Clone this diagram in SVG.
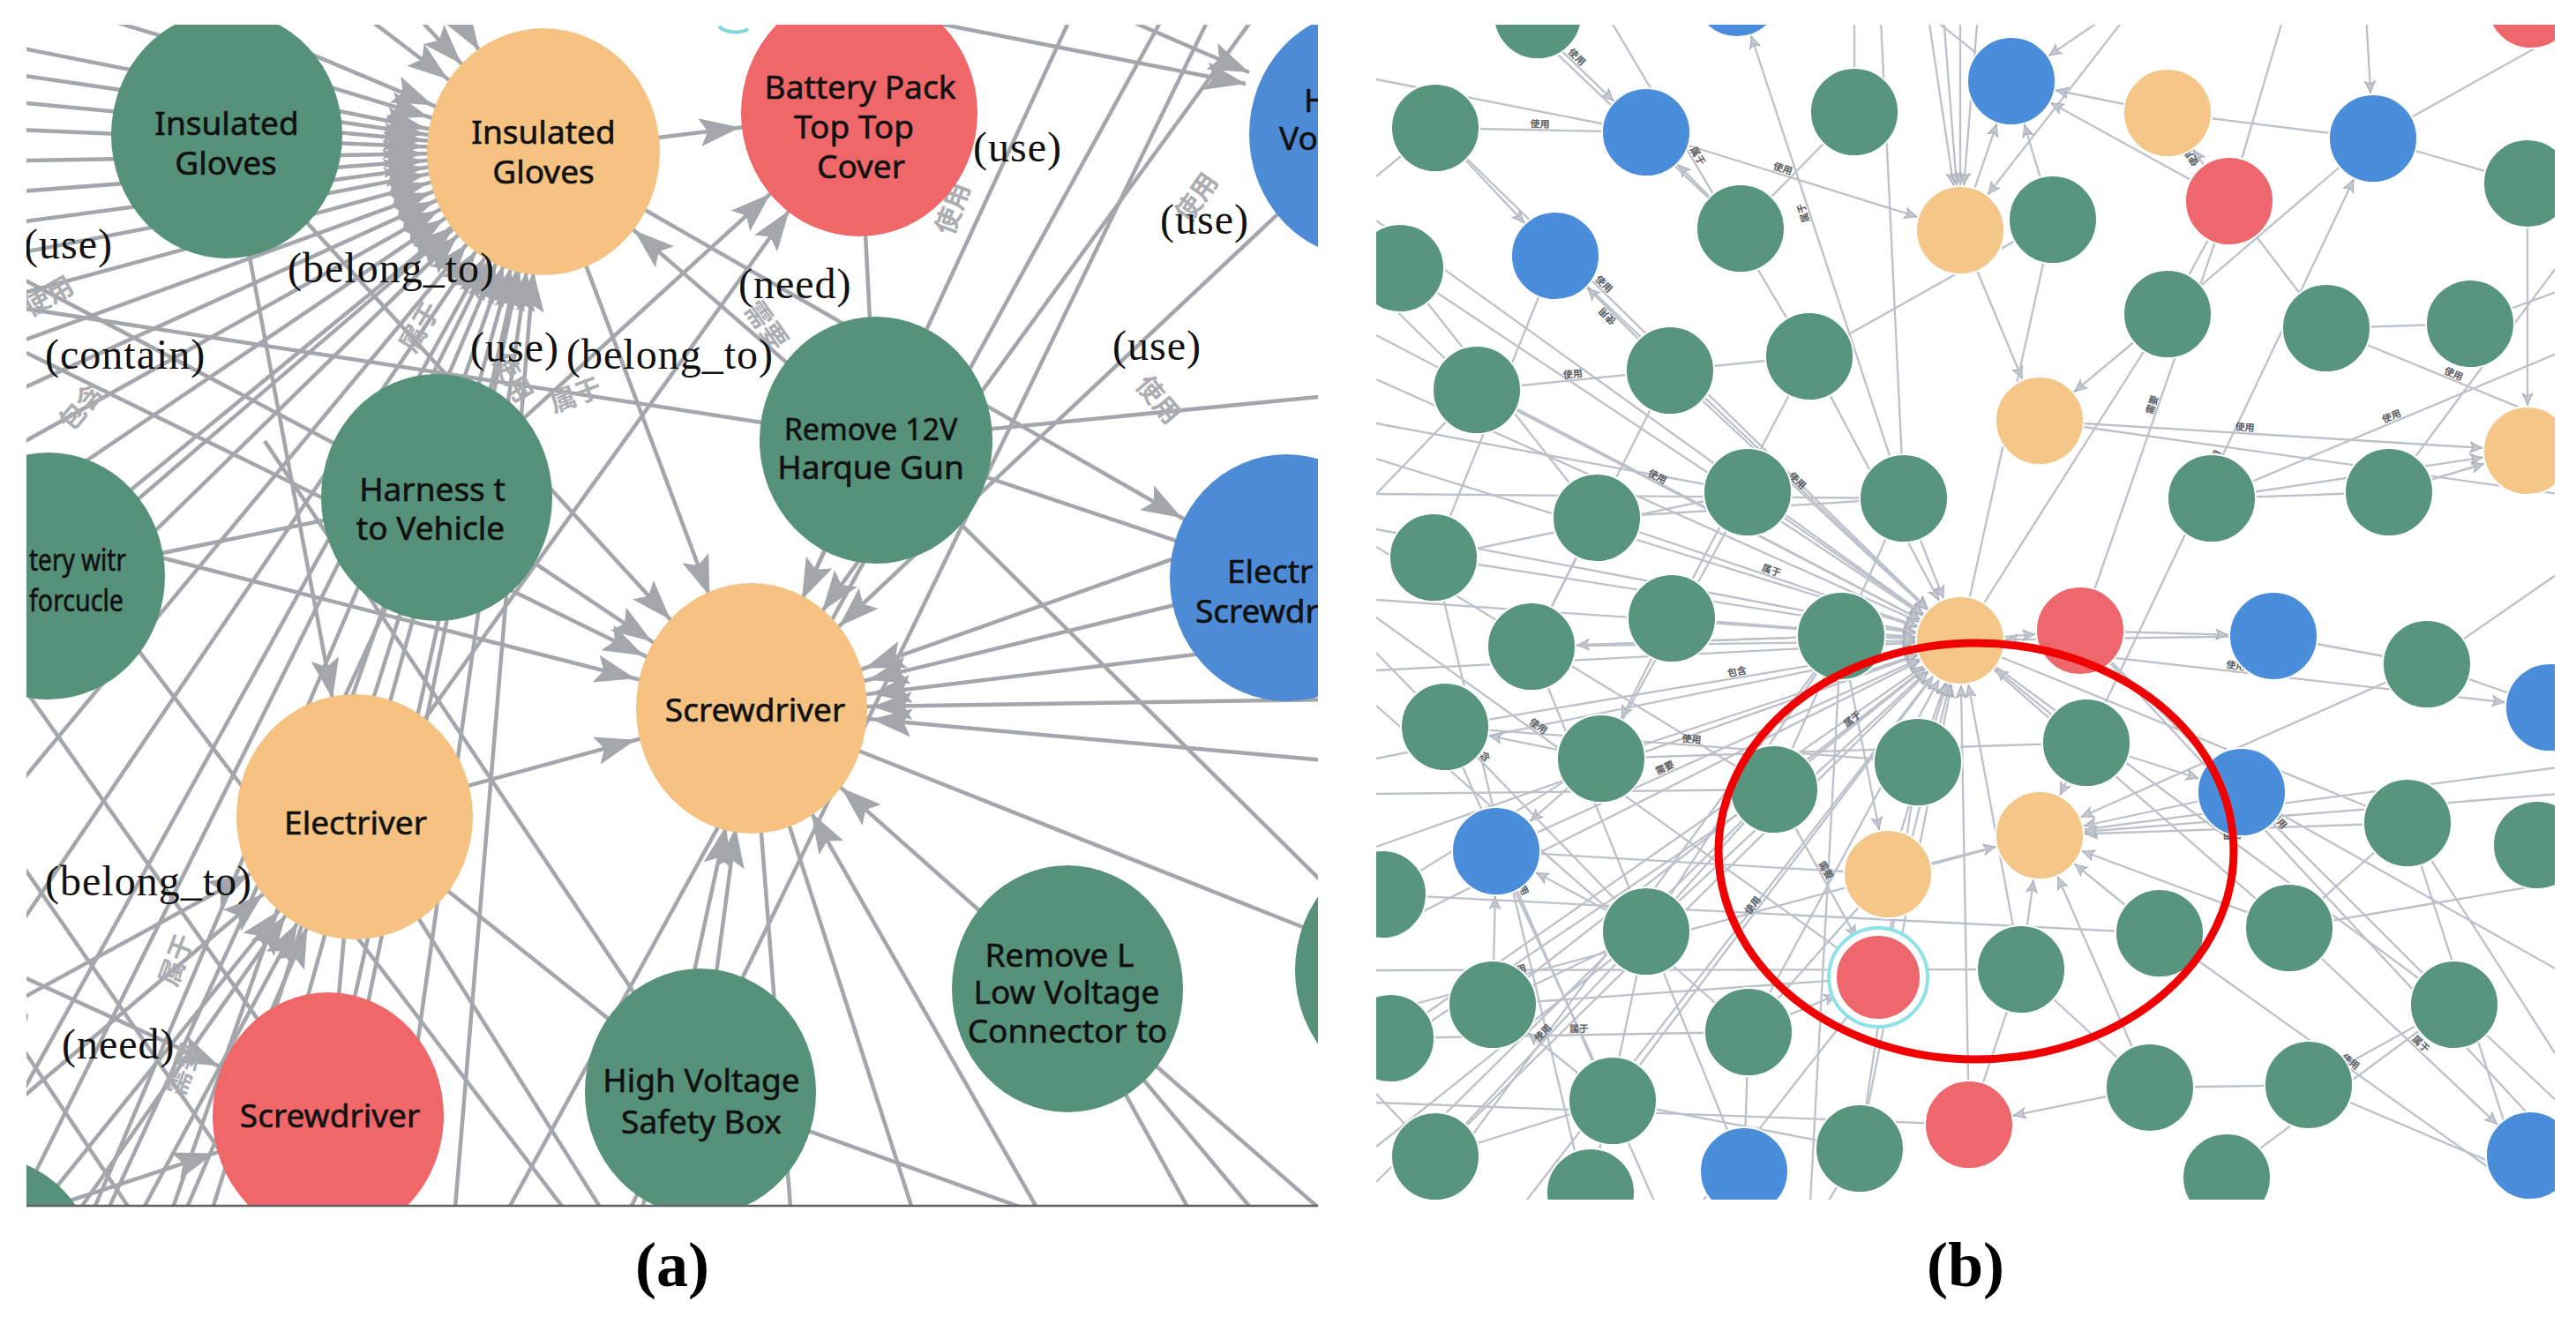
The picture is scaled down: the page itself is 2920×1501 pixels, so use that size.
<svg xmlns="http://www.w3.org/2000/svg" width="2920" height="1501" viewBox="0 0 2920 1501">
<style>
.ea path{stroke:#a3a6ab;stroke-width:4.5;fill:none}
.eb path{stroke:#bcc1ca;stroke-width:2.3;fill:none}
.ng{fill:#56927a}.no{fill:#f5c281}.nr{fill:#f0676a}.nb{fill:#4d8bd6}
.bg{fill:#58957f;stroke:#fff;stroke-width:2}.bo{fill:#f4c687;stroke:#fff;stroke-width:2}.br{fill:#ee676c;stroke:#fff;stroke-width:2}.bb{fill:#4a8ddb;stroke:#fff;stroke-width:2}
.nt{font-family:"Noto Sans","Liberation Sans",sans-serif;font-size:37px;fill:#111;stroke:#111;stroke-width:0.6px;text-anchor:middle}
.nts{font-family:"Noto Sans","Liberation Sans",sans-serif;font-size:37px;fill:#111;stroke:#111;stroke-width:0.6px}
.rl{font-family:"Liberation Serif",serif;font-size:48px;fill:#111;letter-spacing:1px}
.cz{font-family:"Noto Sans CJK SC","Noto Sans",sans-serif;font-size:30px;font-weight:bold;fill:#abadb1;text-anchor:middle}
.lb{font-family:"Noto Sans CJK SC","Noto Sans",sans-serif;font-size:11px;font-weight:bold;fill:#5a5d63}
.cap{font-family:"Liberation Serif",serif;font-size:72px;font-weight:bold;fill:#000;text-anchor:middle}
</style>
<defs>
<clipPath id="clipA"><rect x="30" y="28" width="1464" height="1340"/></clipPath>
<clipPath id="clipB"><rect x="1560" y="28" width="1336" height="1332"/></clipPath>
<marker id="ma" markerUnits="userSpaceOnUse" orient="auto" refX="136" refY="0" markerWidth="10" markerHeight="10" overflow="visible" style="overflow:visible"><path d="M0,0 L-46,-16 L-37,0 L-46,16 Z" fill="#a3a6ab"/></marker>
<marker id="ma0" markerUnits="userSpaceOnUse" orient="auto" refX="0" refY="0" markerWidth="10" markerHeight="10" overflow="visible" style="overflow:visible"><path d="M0,0 L-46,-16 L-37,0 L-46,16 Z" fill="#a3a6ab"/></marker>
<marker id="mb" markerUnits="userSpaceOnUse" orient="auto" refX="52" refY="0" markerWidth="10" markerHeight="10" overflow="visible" style="overflow:visible"><path d="M0,0 L-13,-6 L-10,0 L-13,6 Z" fill="#c3c7cf" stroke="#a6abb5" stroke-width="1"/></marker>
</defs>
<rect x="0" y="0" width="2920" height="1501" fill="#fff"/>

<!-- ================= PANEL A ================= -->
<g id="panel-a" clip-path="url(#clipA)">
<g id="edges-a" class="ea">
<g marker-end="url(#ma)">
<path d="M-150 -150 L616 172"/><path d="M-150 -60 L616 172"/><path d="M-150 20 L616 172"/><path d="M-150 60 L616 172"/>
<path d="M-150 100 L616 172"/><path d="M-150 140 L616 172"/><path d="M-150 185 L616 172"/><path d="M-150 230 L616 172"/>
<path d="M-150 275 L616 172"/><path d="M-150 320 L616 172"/><path d="M-150 380 L616 172"/><path d="M-150 450 L616 172"/>
<path d="M-150 520 L616 172"/><path d="M-150 600 L616 172"/><path d="M-150 690 L616 172"/><path d="M-150 800 L616 172"/>
<path d="M-150 920 L616 172"/><path d="M-120 1060 L616 172"/><path d="M-80 1200 L616 172"/><path d="M-20 1320 L616 172"/>
<path d="M60 1480 L616 172"/><path d="M150 1500 L616 172"/><path d="M240 1520 L616 172"/><path d="M330 1560 L616 172"/>
<path d="M420 1560 L616 172"/><path d="M500 1560 L616 172"/><path d="M100 -220 L616 172"/><path d="M250 -220 L616 172"/>
<path d="M380 -200 L616 172"/><path d="M55 653 L616 172"/><path d="M372 1265 L616 172"/><path d="M-20 1450 L616 172"/>
<path d="M616 172 L974 128"/><path d="M495 564 L974 128"/><path d="M402 926 L974 128"/><path d="M993 499 L616 172"/>
<path d="M616 172 L1458 655"/><path d="M616 172 L852 803"/><path d="M257 153 L852 803"/><path d="M257 153 L402 926"/>
<path d="M495 564 L852 803"/><path d="M402 926 L852 803"/><path d="M993 499 L852 803"/><path d="M1232 -20 L852 803"/>
<path d="M1450 -20 L852 803"/><path d="M1545 152 L852 803"/><path d="M1458 655 L852 803"/><path d="M1700 790 L852 803"/>
<path d="M1700 700 L852 803"/><path d="M1650 520 L852 803"/><path d="M1700 880 L852 803"/><path d="M794 1238 L852 803"/>
<path d="M700 1500 L852 803"/><path d="M1250 1500 L852 803"/><path d="M1210 1121 L852 803"/><path d="M-100 560 L852 803"/>
<path d="M30 400 L852 803"/><path d="M-100 1420 L372 1265"/><path d="M-100 1050 L372 1265"/><path d="M-100 1350 L402 926"/>
<path d="M0 1500 L402 926"/><path d="M60 1560 L402 926"/><path d="M130 1560 L402 926"/><path d="M-20 1450 L402 926"/>
<path d="M-100 1200 L402 926"/>
</g>
<g marker-end="url(#ma0)">
<path d="M600 -64 L1412 95"/><path d="M1180 -20 L1416 82"/>
</g>
<path d="M974 128 L993 499"/><path d="M993 499 L1458 655"/><path d="M993 499 L1800 420"/><path d="M993 499 L1600 1100"/>
<path d="M1390 -20 L700 1400"/><path d="M1340 -20 L560 1400"/><path d="M852 803 L1600 1100"/><path d="M402 926 L794 1238"/>
<path d="M794 1238 L1300 1420"/><path d="M55 653 L495 564"/><path d="M495 564 L100 1420"/><path d="M495 564 L200 1500"/>
<path d="M-100 400 L700 1450"/><path d="M-100 600 L500 1450"/><path d="M-100 800 L350 1450"/><path d="M-100 1000 L200 1450"/>
<path d="M372 1265 L402 926"/><path d="M402 926 L700 1400"/><path d="M1210 1121 L1460 1420"/><path d="M1210 1121 L1530 1400"/>
<path d="M1210 1121 L1380 1430"/><path d="M300 500 L794 1238"/><path d="M852 803 L900 1420"/><path d="M852 803 L1050 1420"/>
<path d="M-100 250 L495 564"/><path d="M-100 330 L993 499"/><path d="M1458 655 L1700 560"/><path d="M1600 1100 L1458 655"/>
</g>
<path d="M815 30 A22 14 0 0 0 848 33" fill="none" stroke="#7fd8dc" stroke-width="4"/>

<g id="a-labels-zh">
<text class="cz" transform="translate(60,345) rotate(-30)">使用</text>
<text class="cz" transform="translate(100,468) rotate(-50)">包含</text>
<text class="cz" transform="translate(485,376) rotate(-60)">属于</text>
<text class="cz" transform="translate(656,458) rotate(-20)">属于</text>
<text class="cz" transform="translate(572,433) rotate(60)">使用</text>
<text class="cz" transform="translate(1090,240) rotate(-70)">使用</text>
<text class="cz" transform="translate(1365,230) rotate(-55)">使用</text>
<text class="cz" transform="translate(860,375) rotate(55)">需要</text>
<text class="cz" transform="translate(1305,460) rotate(50)">使用</text>
<text class="cz" transform="translate(210,1092) rotate(-70)">属于</text>
<text class="cz" transform="translate(218,1216) rotate(-70)">需要</text>
<text class="cz" transform="translate(25,1165) rotate(-70)">属于</text>
</g>

<g id="a-gloves-green"><ellipse class="ng" cx="257" cy="153" rx="131" ry="140"/><text class="nt"><tspan x="257" y="153">Insulated</tspan><tspan x="256" y="198">Gloves</tspan></text></g>
<g id="a-gloves-orange"><ellipse class="no" cx="616" cy="172" rx="132" ry="140"/><text class="nt"><tspan x="616" y="163">Insulated</tspan><tspan x="616" y="208">Gloves</tspan></text></g>
<g id="a-battery-cover"><ellipse class="nr" cx="974" cy="128" rx="134" ry="140"/><text class="nt"><tspan x="975" y="112">Battery Pack</tspan><tspan x="968" y="157">Top Top</tspan><tspan x="976" y="202">Cover</tspan></text></g>
<g id="a-hv-blue"><ellipse class="nb" cx="1547" cy="152" rx="131" ry="140"/><text class="nts"><tspan x="1478" y="127">H</tspan><tspan x="1450" y="170">Vo</tspan></text></g>
<g id="a-remove-12v"><ellipse class="ng" cx="993" cy="499" rx="132" ry="140"/><text class="nt"><tspan x="987" y="499" font-size="34">Remove 12V</tspan><tspan x="987" y="543">Harque Gun</tspan></text></g>
<g id="a-harness"><ellipse class="ng" cx="495" cy="564" rx="131" ry="140"/><text class="nt"><tspan x="490" y="568">Harness t</tspan><tspan x="488" y="612">to Vehicle</tspan></text></g>
<g id="a-battery-left"><ellipse class="ng" cx="55" cy="653" rx="132" ry="140"/><text class="nts"><tspan x="33" y="647" font-size="34" textLength="110" lengthAdjust="spacingAndGlyphs">tery witr</tspan><tspan x="33" y="693" font-size="34" textLength="107" lengthAdjust="spacingAndGlyphs">forcucle</tspan></text></g>
<g id="a-electriver"><ellipse class="no" cx="402" cy="926" rx="134" ry="139"/><text class="nt" x="403" y="946">Electriver</text></g>
<g id="a-screwdriver-orange"><ellipse class="no" cx="852" cy="803" rx="131" ry="142"/><text class="nt" x="856" y="818">Screwdriver</text></g>
<g id="a-electric-screwdriver"><ellipse class="nb" cx="1458" cy="655" rx="132" ry="140"/><text class="nts"><tspan x="1391" y="661">Electr</tspan><tspan x="1355" y="706">Screwdr</tspan></text></g>
<g id="a-screwdriver-red"><ellipse class="nr" cx="372" cy="1265" rx="131" ry="140"/><text class="nt" x="374" y="1278">Screwdriver</text></g>
<g id="a-hv-safety-box"><ellipse class="ng" cx="794" cy="1238" rx="131" ry="140"/><text class="nt"><tspan x="795" y="1238">High Voltage</tspan><tspan x="795" y="1285">Safety Box</tspan></text></g>
<g id="a-remove-lv"><ellipse class="ng" cx="1210" cy="1121" rx="131" ry="140"/><text class="nt"><tspan x="1201" y="1096">Remove L</tspan><tspan x="1209" y="1138">Low Voltage</tspan><tspan x="1210" y="1182">Connector to</tspan></text></g>
<g id="a-right-green"><ellipse class="ng" cx="1600" cy="1100" rx="132" ry="140"/></g>
<g id="a-bottomleft-green"><ellipse class="ng" cx="-20" cy="1450" rx="132" ry="140"/></g>

<g id="a-labels">
<text class="rl" x="27" y="293">(use)</text>
<text class="rl" x="326" y="320">(belong_to)</text>
<text class="rl" x="51" y="418">(contain)</text>
<text class="rl" x="533" y="410">(use)</text>
<text class="rl" x="642" y="418">(belong_to)</text>
<text class="rl" x="837" y="338">(need)</text>
<text class="rl" x="1103" y="183">(use)</text>
<text class="rl" x="1315" y="265">(use)</text>
<text class="rl" x="1261" y="408">(use)</text>
<text class="rl" x="51" y="1015">(belong_to)</text>
<text class="rl" x="70" y="1200">(need)</text>
</g>
</g>
<line x1="30" y1="1367" x2="1494" y2="1367" stroke="#5f5f5f" stroke-width="2.5"/>

<!-- ================= PANEL B ================= -->
<g id="panel-b" clip-path="url(#clipB)">
<g id="edges-b" class="eb">
<g marker-end="url(#mb)">
<path d="M1560 430 L2222 726"/><path d="M1560 520 L2222 726"/><path d="M1560 600 L2222 726"/><path d="M1560 680 L2222 726"/>
<path d="M1560 760 L2222 726"/><path d="M1560 860 L2222 726"/><path d="M1560 960 L2222 726"/><path d="M1560 1060 L2222 726"/>
<path id="eb1" d="M1625 632 L2222 726"/><path d="M1736 733 L2222 726"/><path id="eb2" d="M1810 587 L2222 726"/><path d="M1895 701 L2222 726"/>
<path id="eb3" d="M1674 442 L2222 726"/><path id="eb4" d="M1638 824 L2222 726"/><path d="M1815 860 L2222 726"/><path d="M1981 558 L2222 726"/>
<path d="M2087 721 L2222 726"/><path id="eb5" d="M1866 1056 L2222 726"/><path d="M1692 1139 L2222 726"/><path d="M1576 1177 L2222 726"/>
<path id="eb6" d="M2011 895 L2222 726"/><path id="eb7" d="M1893 420 L2222 726"/><path d="M2051 404 L2222 726"/><path id="eb8" d="M1627 145 L2222 726"/>
<path d="M1763 290 L2222 726"/><path id="eb9" d="M1696 965 L2222 726"/><path d="M1587 304 L2222 726"/><path d="M1560 380 L2222 726"/>
<path d="M1560 250 L2222 726"/><path d="M1627 1311 L2222 726"/><path id="eb10" d="M1828 1248 L2222 726"/><path d="M1982 1170 L2222 726"/>
<path d="M2174 864 L2222 726"/><path d="M2158 565 L2222 726"/><path d="M2108 1302 L2222 726"/><path d="M2232 1275 L2222 726"/>
<path d="M2291 1099 L2222 726"/><path d="M2129 1108 L2222 726"/><path d="M2140 991 L2222 726"/><path d="M2365 842 L2222 726"/>
<path d="M2577 721 L2222 726"/>
<path id="eb11" d="M1866 150 L2222 261"/><path d="M2180 -20 L2222 261"/><path d="M2200 -20 L2222 261"/><path d="M2222 -20 L2222 261"/>
<path d="M2245 -20 L2222 261"/><path d="M2440 -20 L2222 261"/><path d="M1973 259 L1866 150"/><path id="eb12" d="M2158 565 L1969 -8"/>
<path d="M1627 145 L1763 290"/><path id="eb13" d="M1893 420 L1763 290"/><path id="eb14" d="M1700 -10 L1866 150"/><path d="M2087 721 L1736 733"/>
<path d="M1815 860 L1696 965"/><path d="M1692 1139 L1696 965"/><path d="M1866 1056 L1696 965"/><path d="M1815 860 L1638 824"/>
<path d="M2087 721 L2140 991"/><path id="eb15" d="M2011 895 L2129 1108"/><path d="M2291 1099 L2312 947"/><path d="M2437 1233 L2312 947"/>
<path d="M2448 1058 L2312 947"/><path d="M2140 991 L2312 947"/><path d="M2365 842 L2312 947"/><path d="M2541 898 L2312 947"/>
<path id="eb16" d="M2729 933 L2312 947"/><path d="M2595 1052 L2312 947"/><path d="M2900 900 L2312 947"/><path d="M2751 753 L2312 947"/>
<path d="M2365 842 L2541 898"/><path d="M2358 715 L2577 721"/><path d="M2222 726 L2358 715"/><path id="eb17" d="M2222 726 L2890 802"/>
<path id="eb18" d="M2595 1052 L2868 1310"/><path d="M2437 1233 L2232 1275"/><path d="M2457 128 L2280 92"/><path d="M2527 228 L2280 92"/>
<path d="M2430 -10 L2280 92"/><path d="M2222 261 L2280 92"/><path d="M2327 249 L2280 92"/><path id="eb19" d="M2527 228 L2457 128"/>
<path id="eb20" d="M2365 842 L2690 157"/><path d="M2680 -20 L2690 157"/><path d="M2865 208 L2865 511"/><path id="eb21" d="M2312 477 L2865 511"/>
<path d="M2507 565 L2865 511"/><path d="M2708 558 L2865 511"/><path d="M2457 356 L2312 477"/><path d="M2222 261 L2312 477"/>
<path d="M1895 701 L1815 860"/><path d="M1828 1248 L1692 1139"/><path d="M1982 1170 L2129 1108"/>
</g>
<path d="M1560 90 L1866 150"/><path d="M1560 200 L1627 145"/><path id="eb22" d="M1627 145 L1866 150"/><path d="M1680 -20 L1973 259"/>
<path id="eb23" d="M1800 -20 L2051 404"/><path d="M1973 259 L2102 127"/><path d="M2102 127 L2102 -20"/><path d="M2130 -20 L2158 565"/>
<path d="M2280 92 L2140 -20"/><path d="M2457 128 L2690 157"/><path d="M2690 157 L2865 208"/><path d="M2457 356 L2690 157"/>
<path d="M2527 228 L2600 -20"/><path d="M2527 228 L2637 372"/><path d="M2457 356 L2527 228"/><path d="M2690 157 L2900 40"/>
<path d="M2800 367 L2900 330"/><path d="M2800 367 L2637 372"/><path d="M2312 477 L2900 560"/><path id="eb24" d="M2507 565 L2900 400"/>
<path d="M2708 558 L2900 300"/><path d="M2507 565 L2708 558"/><path d="M2051 404 L2327 249"/><path d="M1893 420 L2051 404"/>
<path id="eb25" d="M1674 442 L1893 420"/><path d="M1560 480 L1981 558"/><path id="eb26" d="M1810 587 L2158 565"/><path d="M1625 632 L1981 558"/>
<path d="M1560 560 L2158 565"/><path d="M1736 733 L2087 721"/><path id="eb27" d="M1638 824 L2174 864"/><path d="M1560 900 L2011 895"/>
<path d="M1815 860 L2365 842"/><path d="M1696 965 L2140 991"/><path id="eb28" d="M1560 1100 L2291 1099"/><path d="M1567 1014 L2448 1058"/>
<path d="M1692 1139 L2129 1108"/><path id="eb29" d="M1576 1177 L1982 1170"/><path d="M1627 1311 L1828 1248"/><path d="M1828 1248 L2108 1302"/>
<path d="M1560 1250 L2232 1275"/><path d="M1977 1325 L1982 1170"/><path d="M1803 1350 L1866 1056"/><path id="eb30" d="M1627 1311 L1866 1056"/>
<path d="M1560 1340 L2011 895"/><path d="M1700 1400 L2222 726"/><path d="M1900 1400 L2129 1108"/><path d="M2050 1400 L2087 721"/>
<path d="M2358 715 L2900 1300"/><path id="eb31" d="M2358 715 L2782 1139"/><path d="M2541 898 L2900 1100"/><path d="M2595 1052 L2900 1000"/>
<path d="M2729 933 L2900 1200"/><path d="M2729 933 L2880 1400"/><path d="M2782 1139 L2900 1250"/><path d="M2782 1139 L2617 1230"/>
<path d="M2617 1230 L2900 1350"/><path d="M2437 1233 L2617 1230"/><path d="M2524 1330 L2782 1139"/><path id="eb32" d="M2448 1058 L2900 1380"/>
<path d="M2577 721 L2751 753"/><path d="M2751 753 L2890 802"/><path d="M2751 753 L2900 650"/><path d="M2595 1052 L2729 933"/>
<path d="M2312 947 L2900 870"/><path d="M2222 726 L2729 933"/><path d="M2222 726 L2595 1052"/><path d="M2222 726 L2782 1139"/>
<path id="eb33" d="M2358 715 L2527 228"/><path d="M2222 726 L2327 249"/><path d="M2222 726 L2457 356"/><path d="M2174 864 L2108 1302"/>
<path d="M2291 1099 L2437 1233"/><path d="M2232 1275 L2291 1099"/><path id="eb34" d="M2637 372 L2900 480"/><path d="M2865 511 L2708 558"/>
<path id="eb35" d="M1560 700 L2129 1108"/><path d="M1560 800 L1982 1170"/><path id="eb36" d="M1560 1200 L2011 895"/><path d="M1560 1300 L1866 1056"/>
<path d="M1600 1380 L2087 721"/><path d="M1692 1139 L1866 1056"/><path d="M1567 1014 L1815 860"/><path id="eb37" d="M1638 824 L1892 1400"/>
<path d="M1696 965 L1828 1248"/><path d="M1736 733 L1977 1328"/><path id="eb38" d="M1625 632 L1803 1380"/><path d="M1866 1056 L2011 895"/>
<path d="M1982 1170 L2140 991"/><path d="M1674 442 L1560 560"/><path d="M1810 587 L1736 733"/><path id="eb39" d="M1560 1150 L2312 947"/>
<path d="M1560 620 L2011 895"/><path id="eb40" d="M1560 740 L1866 1056"/><path d="M1587 304 L1810 587"/><path d="M1560 330 L1674 442"/>
<path d="M1763 290 L1625 632"/><path id="eb41" d="M1893 420 L1736 733"/><path d="M2051 404 L1895 701"/><path d="M1981 558 L1815 860"/>
<path d="M2158 565 L2011 895"/><path d="M2087 721 L1866 1056"/><path d="M1627 1311 L1560 1240"/><path d="M2108 1302 L2050 1400"/>
</g>
<g id="b-edge-labels" class="lb">
<text dy="-3"><textPath href="#eb1" startOffset="40%">使用</textPath></text>
<text dy="-3"><textPath href="#eb2" startOffset="45%">属于</textPath></text>
<text dy="-3"><textPath href="#eb3" startOffset="35%">使用</textPath></text>
<text dy="-3"><textPath href="#eb4" startOffset="55%">包含</textPath></text>
<text dy="-3"><textPath href="#eb5" startOffset="45%">使用</textPath></text>
<text dy="-3"><textPath href="#eb6" startOffset="40%">属于</textPath></text>
<text dy="-3"><textPath href="#eb7" startOffset="40%">使用</textPath></text>
<text dy="-3"><textPath href="#eb8" startOffset="30%">使用</textPath></text>
<text dy="-3"><textPath href="#eb9" startOffset="35%">需要</textPath></text>
<text dy="-3"><textPath href="#eb10" startOffset="40%">使用</textPath></text>
<text dy="-3"><textPath href="#eb11" startOffset="40%">使用</textPath></text>
<text dy="-3"><textPath href="#eb12" startOffset="55%">属于</textPath></text>
<text dy="-3"><textPath href="#eb13" startOffset="45%">使用</textPath></text>
<text dy="-3"><textPath href="#eb14" startOffset="45%">使用</textPath></text>
<text dy="-3"><textPath href="#eb15" startOffset="40%">需要</textPath></text>
<text dy="-3"><textPath href="#eb16" startOffset="45%">使用</textPath></text>
<text dy="-3"><textPath href="#eb17" startOffset="45%">使用</textPath></text>
<text dy="-3"><textPath href="#eb18" startOffset="50%">属于</textPath></text>
<text dy="-3"><textPath href="#eb19" startOffset="45%">使用</textPath></text>
<text dy="-3"><textPath href="#eb20" startOffset="45%">使用</textPath></text>
<text dy="-3"><textPath href="#eb21" startOffset="40%">使用</textPath></text>
<text dy="-3"><textPath href="#eb22" startOffset="45%">使用</textPath></text>
<text dy="-3"><textPath href="#eb23" startOffset="45%">属于</textPath></text>
<text dy="-3"><textPath href="#eb24" startOffset="50%">使用</textPath></text>
<text dy="-3"><textPath href="#eb25" startOffset="45%">使用</textPath></text>
<text dy="-3"><textPath href="#eb26" startOffset="45%">包含</textPath></text>
<text dy="-3"><textPath href="#eb27" startOffset="50%">使用</textPath></text>
<text dy="-3"><textPath href="#eb28" startOffset="40%">使用</textPath></text>
<text dy="-3"><textPath href="#eb29" startOffset="50%">属于</textPath></text>
<text dy="-3"><textPath href="#eb30" startOffset="50%">使用</textPath></text>
<text dy="-3"><textPath href="#eb31" startOffset="50%">使用</textPath></text>
<text dy="-3"><textPath href="#eb32" startOffset="45%">使用</textPath></text>
<text dy="-3"><textPath href="#eb33" startOffset="50%">需要</textPath></text>
<text dy="-3"><textPath href="#eb34" startOffset="50%">使用</textPath></text>
<text dy="-3"><textPath href="#eb35" startOffset="30%">使用</textPath></text>
<text dy="-3"><textPath href="#eb36" startOffset="25%">属于</textPath></text>
<text dy="-3"><textPath href="#eb37" startOffset="30%">使用</textPath></text>
<text dy="-3"><textPath href="#eb38" startOffset="45%">使用</textPath></text>
<text dy="-3"><textPath href="#eb39" startOffset="20%">使用</textPath></text>
<text dy="-3"><textPath href="#eb40" startOffset="35%">包含</textPath></text>
<text dy="-3"><textPath href="#eb41" startOffset="50%">使用</textPath></text>
</g>

<g id="nodes-b">
<g id="b-n1"><circle class="bg" cx="1743" cy="17" r="50"/></g>
<g id="b-n2"><circle class="bb" cx="1969" cy="-8" r="50"/></g>
<g id="b-n3"><circle class="bg" cx="1627" cy="145" r="50"/></g>
<g id="b-n4"><circle class="bb" cx="1866" cy="150" r="50"/></g>
<g id="b-n5"><circle class="bg" cx="2102" cy="127" r="50"/></g>
<g id="b-n6"><circle class="bb" cx="2280" cy="92" r="50"/></g>
<g id="b-n7"><circle class="bo" cx="2457" cy="128" r="50"/></g>
<g id="b-n8"><circle class="bb" cx="2690" cy="157" r="50"/></g>
<g id="b-n9"><circle class="br" cx="2869" cy="5" r="50"/></g>
<g id="b-n10"><circle class="bb" cx="1763" cy="290" r="50"/></g>
<g id="b-n11"><circle class="bg" cx="1973" cy="259" r="50"/></g>
<g id="b-n12"><circle class="bo" cx="2222" cy="261" r="50"/></g>
<g id="b-n13"><circle class="bg" cx="2327" cy="249" r="50"/></g>
<g id="b-n14"><circle class="br" cx="2527" cy="228" r="50"/></g>
<g id="b-n15"><circle class="bg" cx="2865" cy="208" r="50"/></g>
<g id="b-n16"><circle class="bg" cx="1587" cy="304" r="50"/></g>
<g id="b-n17"><circle class="bg" cx="2457" cy="356" r="50"/></g>
<g id="b-n18"><circle class="bg" cx="2637" cy="372" r="50"/></g>
<g id="b-n19"><circle class="bg" cx="2800" cy="367" r="50"/></g>
<g id="b-n20"><circle class="bg" cx="1893" cy="420" r="50"/></g>
<g id="b-n21"><circle class="bg" cx="2051" cy="404" r="50"/></g>
<g id="b-n22"><circle class="bg" cx="1674" cy="442" r="50"/></g>
<g id="b-n23"><circle class="bo" cx="2312" cy="477" r="50"/></g>
<g id="b-n24"><circle class="bo" cx="2865" cy="511" r="50"/></g>
<g id="b-n25"><circle class="bg" cx="1981" cy="558" r="50"/></g>
<g id="b-n26"><circle class="bg" cx="2158" cy="565" r="50"/></g>
<g id="b-n27"><circle class="bg" cx="2507" cy="565" r="50"/></g>
<g id="b-n28"><circle class="bg" cx="2708" cy="558" r="50"/></g>
<g id="b-n29"><circle class="bg" cx="1810" cy="587" r="50"/></g>
<g id="b-n30"><circle class="bg" cx="1625" cy="632" r="50"/></g>
<g id="b-n31"><circle class="bg" cx="1895" cy="701" r="50"/></g>
<g id="b-n32"><circle class="bg" cx="1736" cy="733" r="50"/></g>
<g id="b-n33"><circle class="bg" cx="2087" cy="721" r="50"/></g>
<g id="b-n34"><circle class="bo" cx="2222" cy="726" r="50"/></g>
<g id="b-n35"><circle class="br" cx="2358" cy="715" r="50"/></g>
<g id="b-n36"><circle class="bb" cx="2577" cy="721" r="50"/></g>
<g id="b-n37"><circle class="bg" cx="2751" cy="753" r="50"/></g>
<g id="b-n38"><circle class="bb" cx="2890" cy="802" r="50"/></g>
<g id="b-n39"><circle class="bg" cx="1638" cy="824" r="50"/></g>
<g id="b-n40"><circle class="bg" cx="1815" cy="860" r="50"/></g>
<g id="b-n41"><circle class="bg" cx="2011" cy="895" r="50"/></g>
<g id="b-n42"><circle class="bg" cx="2174" cy="864" r="50"/></g>
<g id="b-n43"><circle class="bg" cx="2365" cy="842" r="50"/></g>
<g id="b-n44"><circle class="bb" cx="2541" cy="898" r="50"/></g>
<g id="b-n45"><circle class="bg" cx="2729" cy="933" r="50"/></g>
<g id="b-n46"><circle class="bg" cx="2876" cy="958" r="50"/></g>
<g id="b-n47"><circle class="bb" cx="1696" cy="965" r="50"/></g>
<g id="b-n48"><circle class="bo" cx="2140" cy="991" r="50"/></g>
<g id="b-n49"><circle class="bo" cx="2312" cy="947" r="50"/></g>
<g id="b-n50"><circle class="bg" cx="1567" cy="1014" r="50"/></g>
<g id="b-n51"><circle class="bg" cx="1866" cy="1056" r="50"/></g>
<g id="b-n52"><circle class="bg" cx="2448" cy="1058" r="50"/></g>
<g id="b-n53"><circle class="bg" cx="2595" cy="1052" r="50"/></g>
<g id="b-n54"><circle cx="2129" cy="1108" r="56" fill="#fff" stroke="#8de2e8" stroke-width="4"/><circle class="br" cx="2129" cy="1108" r="48" stroke="none"/></g>
<g id="b-n55"><circle class="bg" cx="2291" cy="1099" r="50"/></g>
<g id="b-n56"><circle class="bg" cx="2782" cy="1139" r="50"/></g>
<g id="b-n57"><circle class="bg" cx="1692" cy="1139" r="50"/></g>
<g id="b-n58"><circle class="bg" cx="1982" cy="1170" r="50"/></g>
<g id="b-n59"><circle class="bg" cx="1576" cy="1177" r="50"/></g>
<g id="b-n60"><circle class="bg" cx="1828" cy="1248" r="50"/></g>
<g id="b-n61"><circle class="br" cx="2232" cy="1275" r="50"/></g>
<g id="b-n62"><circle class="bg" cx="2437" cy="1233" r="50"/></g>
<g id="b-n63"><circle class="bg" cx="2617" cy="1230" r="50"/></g>
<g id="b-n64"><circle class="bg" cx="2108" cy="1302" r="50"/></g>
<g id="b-n65"><circle class="bg" cx="1627" cy="1311" r="50"/></g>
<g id="b-n66"><circle class="bb" cx="1977" cy="1328" r="50"/></g>
<g id="b-n67"><circle class="bg" cx="2524" cy="1335" r="50"/></g>
<g id="b-n68"><circle class="bb" cx="2868" cy="1310" r="50"/></g>
<g id="b-n69"><circle class="bg" cx="1803" cy="1352" r="50"/></g>
</g>
<ellipse id="b-highlight" cx="2240" cy="965" rx="292" ry="236" fill="none" stroke="#f00000" stroke-width="9"/>
</g>

<text class="cap" x="762" y="1458">(a)</text>
<text class="cap" x="2228" y="1458">(b)</text>
</svg>
